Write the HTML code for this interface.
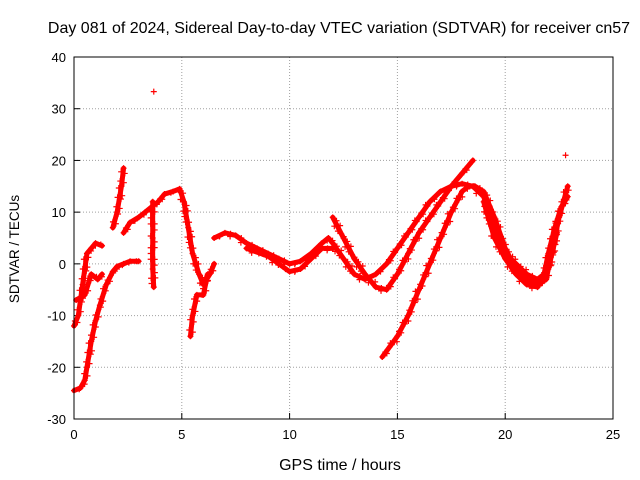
<!DOCTYPE html>
<html><head><meta charset="utf-8">
<style>
body{margin:0;background:#fff;}
svg{display:block;font-family:"Liberation Sans",sans-serif;}
</style></head>
<body>
<svg id="chart" width="640" height="480">
<rect width="640" height="480" fill="#fff"/>
<text x="339" y="33" font-size="16" text-anchor="middle">Day 081 of 2024, Sidereal Day-to-day VTEC variation (SDTVAR) for receiver cn57</text>
<text x="340" y="470" font-size="16" text-anchor="middle">GPS time / hours</text>
<text transform="translate(19,249) rotate(-90)" font-size="13.5" text-anchor="middle">SDTVAR / TECUs</text>
<g id="grid"></g><g id="marks"></g>
<rect x="74" y="57" width="539" height="362" fill="none" stroke="#000" stroke-width="1"/>
</svg>
<script>
const xTicks=[0,5,10,15,20,25];
const yTicks=[-30,-20,-10,0,10,20,30,40];
const trackA=[[0,-24.5],[0.3,-24],[0.5,-22.5],[0.6,-20],[0.8,-15],[1,-11],[1.2,-8],[1.5,-4],[1.8,-1.5],[2,-0.5],[2.3,0],[2.6,0.5],[3,0.5]];
const trackB=[[0,-12],[0.2,-10],[0.4,-4],[0.6,2],[0.8,3],[1,4],[1.3,3.5]];
const trackB2=[[0.1,-7],[0.5,-6],[0.8,-2],[1.1,-3],[1.3,-2]];
const trackB3=[[1.8,7],[2,10],[2.2,15],[2.3,18.5]];
const trackC=[[2.3,6],[2.6,8],[3,9],[3.3,10],[3.6,11],[3.9,12],[4.2,13.5],[4.6,14],[4.9,14.5],[5.1,12],[5.3,7],[5.5,2],[5.8,-2],[6,-4],[6.3,-2],[6.5,0]];
const trackDip=[[5.4,-14],[5.5,-10],[5.7,-6],[6,-6],[6.2,-2]];
const trackCol=[[3.65,12],[3.65,5],[3.65,-1],[3.7,-4.5]];
const trackD=[[6.5,5],[7,6],[7.5,5.5],[8,4],[8.5,3],[9,2],[9.5,1],[10,0],[10.5,0.5],[11,2],[11.5,4],[11.8,5],[12,4],[12.5,1],[13,-2],[13.5,-3],[14,-2],[14.5,0],[15,3],[15.5,6],[16,9],[16.5,12],[17,14],[17.5,15],[18,15.5],[18.5,15],[19,13],[19.5,7],[20,2],[20.5,0],[21,-2],[21.5,-3],[21.8,-2],[22,2],[22.3,7],[22.6,11],[22.9,13]];
const trackD2=[[8,3],[9,1.5],[10,-1.5],[10.5,-1],[11,1],[11.5,3],[12,3]];
const trackE=[[12,9],[12.5,5],[13,1],[13.5,-2],[14,-4.5],[14.5,-5],[15,-2],[15.5,2],[16,6],[16.5,9],[17,12],[17.5,15],[18,17.5],[18.5,20]];
const trackF=[[14.3,-18],[15,-14],[15.5,-10],[16,-5],[16.5,0],[17,5],[17.5,10],[18,14],[18.3,15],[18.6,15],[19,14],[19.5,9],[20,3],[20.5,-1],[21,-3],[21.5,-4],[21.9,-3],[22.2,3],[22.5,9],[22.9,15]];
const trackG=[[19,12],[19.5,5],[20,1],[20.5,-2],[21,-4],[21.5,-4.5],[22,-1],[22.4,6]];
const outliers=[[3.7,33.3],[22.8,21]];
const tracks=[trackA,trackB,trackB2,trackB3,trackC,trackDip,trackCol,trackD,trackD2,trackE,trackF,trackG];

const X0=74,X1=613,Y0=419,Y1=57;
function sx(v){return X0+(v-0)/(25-0)*(X1-X0);}
function sy(v){return Y0-(v+30)/(70)*(Y0-Y1);}
const NS="http://www.w3.org/2000/svg";
const grid=document.getElementById('grid'), marks=document.getElementById('marks');
function mk(t,a){const e=document.createElementNS(NS,t);for(const k in a)e.setAttribute(k,a[k]);return e;}
xTicks.forEach(t=>{
  const x=sx(t);
  if(t>0&&t<25){const g=mk('line',{x1:x,y1:Y1,x2:x,y2:Y0,stroke:'#a0a0a0','stroke-dasharray':'1,2'});
  
  
  grid.appendChild(g);}
  const tk=mk('line',{x1:x,y1:Y0,x2:x,y2:Y0-6,stroke:'#000'});
  
  
  grid.appendChild(tk);
  const l=mk('text',{x:x,y:Y0+20,'font-size':13,'text-anchor':'middle'});l.textContent=t;
  
  
  grid.appendChild(l);
});
yTicks.forEach(t=>{
  const y=sy(t);
  if(t>-30&&t<40){const g=mk('line',{x1:X0,y1:y,x2:X1,y2:y,stroke:'#a0a0a0','stroke-dasharray':'1,2'});
  
  
  grid.appendChild(g);}
  const tk=mk('line',{x1:X0,y1:y,x2:X0+6,y2:y,stroke:'#000'});
  
  
  grid.appendChild(tk);
  const l=mk('text',{x:X0-8,y:y+5,'font-size':13,'text-anchor':'end'});l.textContent=t;
  
  
  grid.appendChild(l);
});
function plus(x,y){
  const p=mk('path',{d:`M${x-3},${y}h6M${x},${y-3}v6`,stroke:'#f00','stroke-width':1.2});
  
  
  marks.appendChild(p);
}
tracks.forEach(tr=>{
  const pl=mk('polyline',{points:tr.map(p=>sx(p[0])+','+sy(p[1])).join(' '),fill:'none',stroke:'#f00','stroke-width':5,'stroke-linejoin':'round','stroke-linecap':'round'});
  
  
  marks.appendChild(pl);
  for(let i=0;i<tr.length;i++){
    plus(sx(tr[i][0]),sy(tr[i][1]));
    if(i<tr.length-1){
      const ax=sx(tr[i][0]),ay=sy(tr[i][1]),bx=sx(tr[i+1][0]),by=sy(tr[i+1][1]);
      const n=Math.max(1,Math.round(Math.hypot(bx-ax,by-ay)/4));
      for(let k=1;k<n;k++)plus(ax+(bx-ax)*k/n+(k%2?2:-2),ay+(by-ay)*k/n+(k%3-1)*2);
    }
  }
});
outliers.forEach(p=>plus(sx(p[0]),sy(p[1])));
</script>
</body></html>
